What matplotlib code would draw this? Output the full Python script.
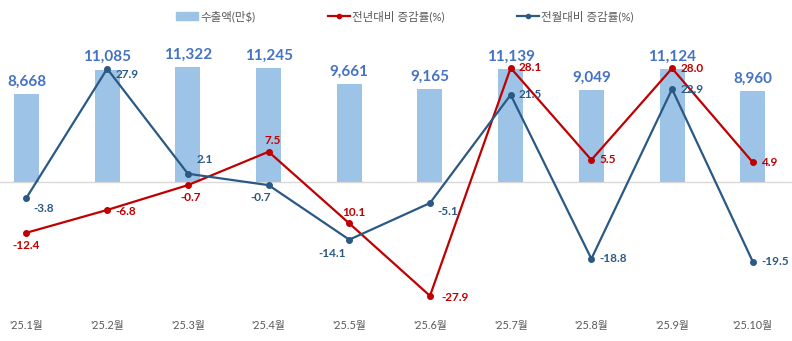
import matplotlib
matplotlib.use("Agg")
from matplotlib import pyplot as plt
from matplotlib.lines import Line2D
from matplotlib.patches import Patch

# 데이터
months = ["'25.1월", "'25.2월", "'25.3월", "'25.4월", "'25.5월",
          "'25.6월", "'25.7월", "'25.8월", "'25.9월", "'25.10월"]
export_amt = [8668, 11085, 11322, 11245, 9661, 9165, 11139, 9049, 11124, 8960]
yoy = [-12.4, -6.8, -0.7, 7.5, -10.1, -27.9, 28.1, 5.5, 28.0, 4.9]
yoy_text = ["-12.4", "-6.8", "-0.7", "7.5", "10.1", "-27.9", "28.1", "5.5", "28.0", "4.9"]
mom = [-3.8, 27.9, 2.1, -0.7, -14.1, -5.1, 21.5, -18.8, 22.9, -19.5]

# 라벨 위치 (points)
yoy_off = [(0, -9), (6, -1), (2, -9), (3, 8), (3, 8), (8, -1), (6, 0), (6, 0), (6, 0), (6, 0)]
mom_off = [(5, -8), (6, -4), (6, 10), (-6, -9), (-12, -10), (5, -6), (6, 0), (6, 0), (6, 0), (6, 0)]

FONT = ['Lato', 'Noto Sans CJK KR', 'DejaVu Sans']
plt.rcParams['font.family'] = FONT

BAR_C = '#9DC3E6'
RED = '#C00000'
BLUE = '#2A5986'
GRAY = '#595959'

fig = plt.figure(figsize=(7.92, 3.41), dpi=100)
ax = fig.add_axes([0, 31 / 341, 1, 275 / 341])
ax2 = ax.twinx()

x = list(range(len(months)))
ax.bar(x, export_amt, width=0.31, color=BAR_C, zorder=1)
ax.axhline(0, color='#D9D9D9', linewidth=1, zorder=0)
ax.set_xlim(-0.328, 9.486)
ax.set_ylim(-12566, 14494)
ax2.set_ylim(-31.38, 36.19)

for i, v in enumerate(export_amt):
    ax.annotate(f"{v:,}", (i, v), xytext=(0, 4), textcoords='offset points',
                ha='center', va='bottom', fontsize=11, fontweight='bold', color='#4472C4')

ax2.plot(x, yoy, color=RED, linewidth=1.6, marker='o', markersize=4, zorder=3)
ax2.plot(x, mom, color=BLUE, linewidth=1.6, marker='o', markersize=4, zorder=4)

for i, v in enumerate(yoy):
    dx, dy = yoy_off[i]
    ax2.annotate(yoy_text[i], (i, v), xytext=(dx, dy), textcoords='offset points',
                 ha='left' if dx > 4 else 'center', va='center',
                 fontsize=8.5, fontweight='bold', color=RED)
for i, v in enumerate(mom):
    dx, dy = mom_off[i]
    ax2.annotate(f"{v:.1f}", (i, v), xytext=(dx, dy), textcoords='offset points',
                 ha='left' if dx > 4 else 'center', va='center',
                 fontsize=8.5, fontweight='bold', color=BLUE)

ax.set_xticks(x)
ax.set_xticklabels(months, fontsize=7.8, color=GRAY)
ax.tick_params(axis='x', length=0, pad=7)
ax.set_yticks([])
ax2.set_yticks([])
for a in (ax, ax2):
    for s in a.spines.values():
        s.set_visible(False)

handles = [Patch(color=BAR_C),
           Line2D([], [], color=RED, linewidth=1.6, marker='o', markersize=3),
           Line2D([], [], color=BLUE, linewidth=1.6, marker='o', markersize=3)]
labels = ['수출액(만$)', '전년대비 증감률(%)', '전월대비 증감률(%)']
leg = fig.legend(handles, labels, loc='upper center', bbox_to_anchor=(0.511, 1.0), ncol=3,
                 frameon=False, fontsize=8.3, columnspacing=6.3, handlelength=1.9,
                 handletextpad=0.2, labelcolor=GRAY)

fig.savefig('out.png', dpi=100)
